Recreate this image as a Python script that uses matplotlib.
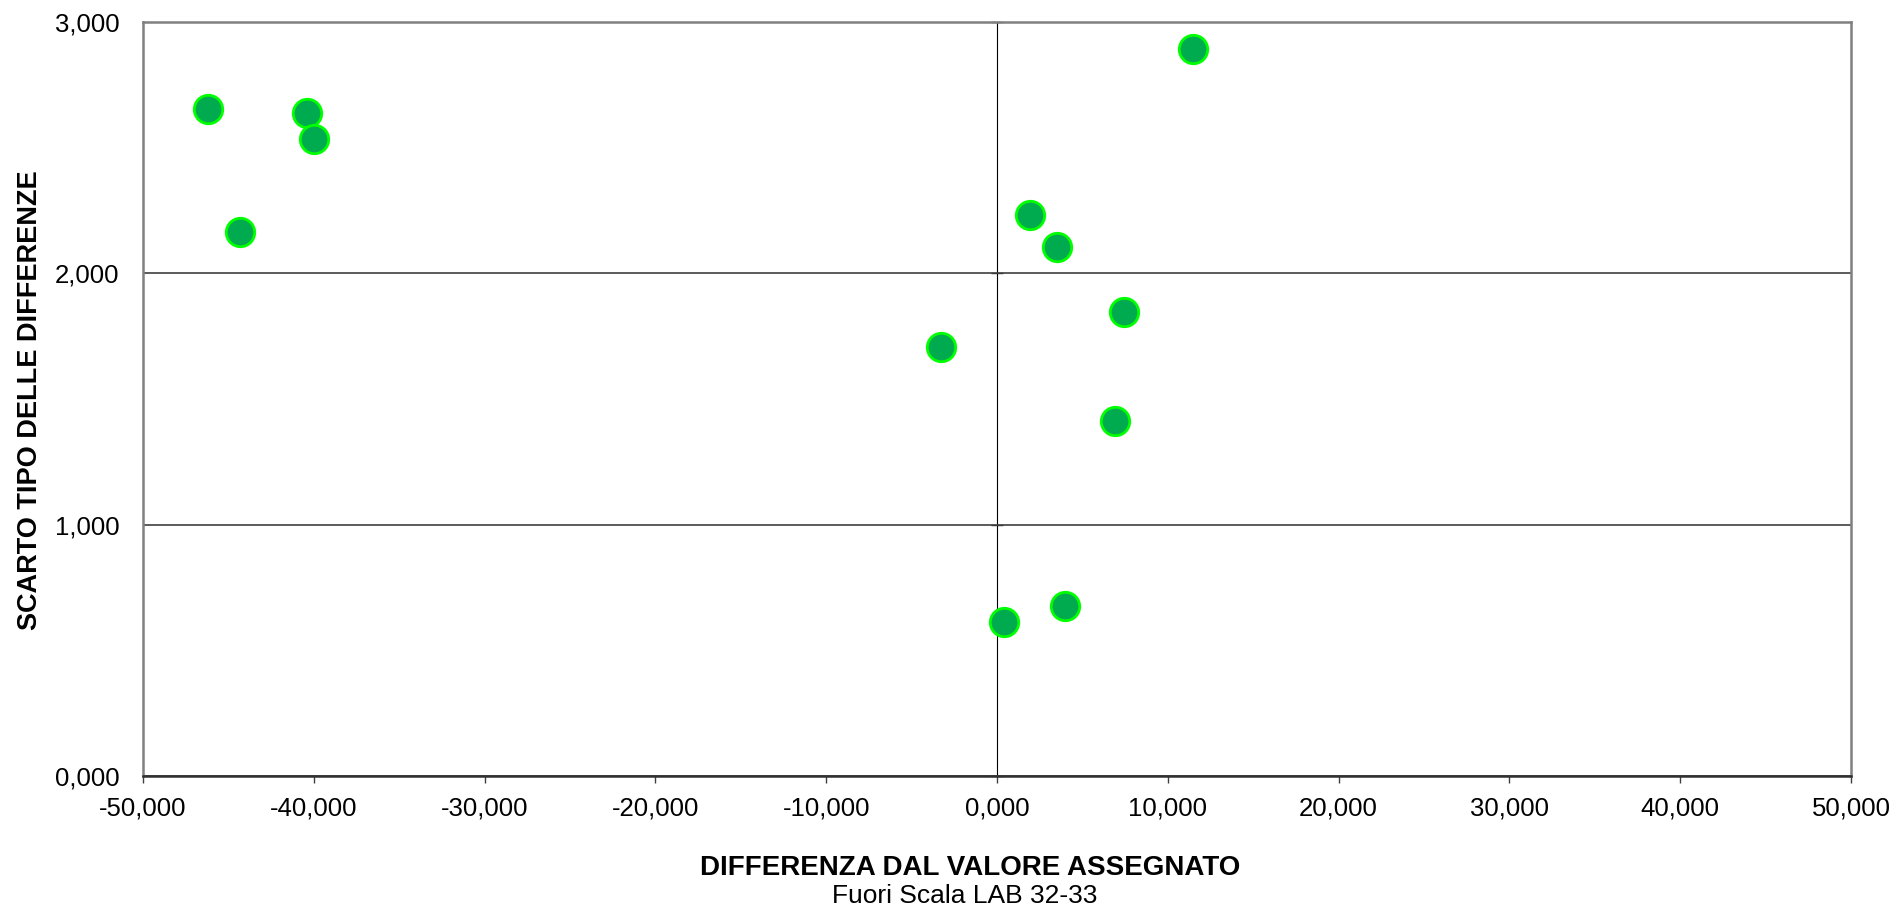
import matplotlib
matplotlib.use("Agg")
import matplotlib.pyplot as plt
from matplotlib.ticker import FuncFormatter
from matplotlib.transforms import IdentityTransform

# Data
x_diff = [-46.17, -40.42, -39.99, -44.32, 11.46, 1.95, 3.51, 7.42, -3.30, 6.92, 0.39, 4.01]
y_sd = [2.653, 2.639, 2.533, 2.166, 2.894, 2.233, 2.103, 1.848, 1.708, 1.413, 0.613, 0.675]
x_ticks = [-50, -40, -30, -20, -10, 0, 10, 20, 30, 40, 50]
y_ticks = [0, 1, 2, 3]
x_label = "DIFFERENZA DAL VALORE ASSEGNATO"
y_label = "SCARTO TIPO DELLE DIFFERENZE"
subtitle = "Fuori Scala LAB 32-33"

plt.rcParams['font.family'] = ['Liberation Sans', 'DejaVu Sans']

W, H = 1901, 907
fig = plt.figure(figsize=(W / 100, H / 100), dpi=100)
ax = fig.add_axes([143 / W, (H - 776) / H, (1851 - 143) / W, (776 - 22) / H])

fmt = FuncFormatter(lambda v, p: f"{v:,.3f}".replace(",", "X").replace(".", ",").replace("X", "."))
ax.set_xlim(-50, 50)
ax.set_ylim(0, 3)
ax.set_xticks(x_ticks)
ax.set_yticks(y_ticks)
ax.xaxis.set_major_formatter(fmt)
ax.yaxis.set_major_formatter(fmt)

ax.grid(axis='y', color='#404040', linewidth=1.2)
ax.set_axisbelow(True)

for s in ['top', 'right', 'left']:
    ax.spines[s].set_color('#808080')
    ax.spines[s].set_linewidth(1.8)
ax.spines['bottom'].set_color('#303030')
ax.spines['bottom'].set_linewidth(1.8)

ax.tick_params(axis='x', direction='out', length=5, width=1.0, color='#404040',
               labelsize=18.5, pad=10)
ax.tick_params(axis='y', length=0, labelsize=18.5, pad=17)

# vertical axis crossing at x = 0
sec = ax.secondary_yaxis(0.5)
sec.set_yticks(y_ticks)
sec.tick_params(axis='y', direction='inout', length=8, width=1.0, color='#303030',
                labelleft=False, labelright=False)
sec.spines['left'].set_color('#303030')
sec.spines['left'].set_linewidth(1.4)

ax.scatter(x_diff, y_sd, s=420, facecolor='#00AA4F', edgecolor='#00FF00',
           linewidth=2.0, zorder=5, clip_on=False)

px = IdentityTransform()
fig.text(970, H - 868, x_label, transform=px, ha='center', va='center',
         fontsize=20, fontweight='bold')
fig.text(965, H - 896, subtitle, transform=px, ha='center', va='center', fontsize=19)
fig.text(30, H - 400, y_label, transform=px, ha='center', va='center', rotation=90,
         fontsize=19.5, fontweight='bold')

fig.savefig("out.png", dpi=100)
